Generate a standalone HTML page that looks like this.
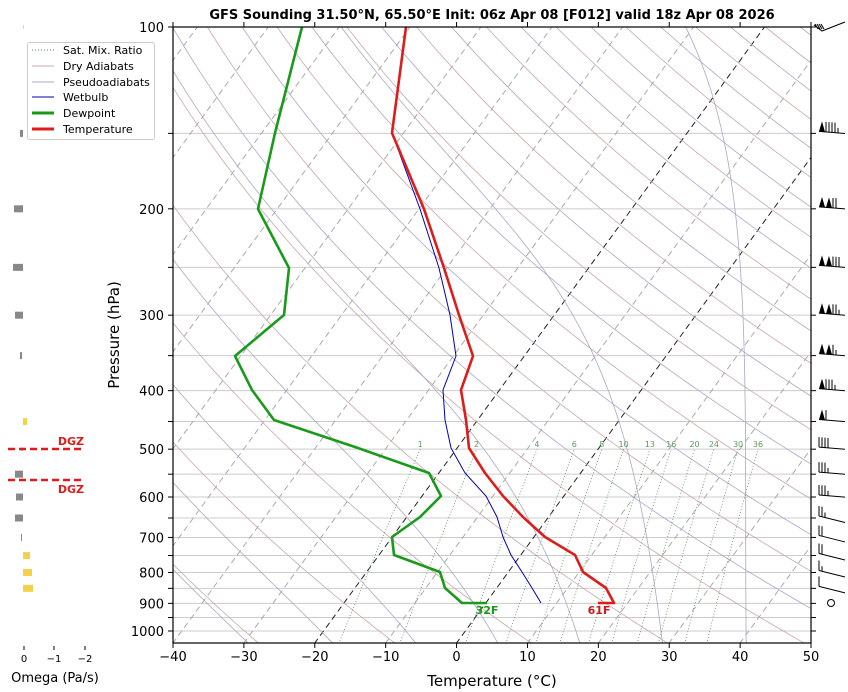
<!DOCTYPE html>
<html><head><meta charset="utf-8">
<style>
html,body{margin:0;padding:0;background:#fff;width:848px;height:692px;overflow:hidden}
svg{display:block;font-family:"DejaVu Sans","Liberation Sans",sans-serif}
</style></head>
<body>
<svg id="s" width="848" height="692" viewBox="0 0 848 692" xmlns="http://www.w3.org/2000/svg">
<defs><clipPath id="c"><rect x="173" y="27" width="638" height="616"/></clipPath></defs>
<g id="bg" clip-path="url(#c)"></g>
<g id="fg"></g>
<text x="492" y="19" text-anchor="middle" font-size="13" font-weight="bold">GFS Sounding 31.50°N, 65.50°E Init: 06z Apr 08 [F012] valid 18z Apr 08 2026</text>
<text x="492" y="686" text-anchor="middle" font-size="15">Temperature (°C)</text>
<text transform="translate(119,335) rotate(-90)" text-anchor="middle" font-size="15">Pressure (hPa)</text>
<text x="55" y="682" text-anchor="middle" font-size="13">Omega (Pa/s)</text>
<rect x="27.5" y="42.5" width="127" height="97" rx="2" fill="#fff" stroke="#ccc"/>
<g font-size="11">
<line x1="32" y1="50" x2="54" y2="50" stroke="#5a8a5a" stroke-dasharray="1,2"/><text x="63" y="54">Sat. Mix. Ratio</text>
<line x1="32" y1="66" x2="54" y2="66" stroke="#c9a8a8"/><text x="63" y="70">Dry Adiabats</text>
<line x1="32" y1="82" x2="54" y2="82" stroke="#a8a8c8"/><text x="63" y="86">Pseudoadiabats</text>
<line x1="32" y1="97" x2="54" y2="97" stroke="#0000aa"/><text x="63" y="101">Wetbulb</text>
<line x1="32" y1="113" x2="54" y2="113" stroke="#1a9a1a" stroke-width="3"/><text x="63" y="117">Dewpoint</text>
<line x1="32" y1="129" x2="54" y2="129" stroke="#dd1c1c" stroke-width="3"/><text x="63" y="133">Temperature</text>
</g>
</svg>
<script>
var NS="http://www.w3.org/2000/svg";
function el(par,t,a,txt){var e=document.createElementNS(NS,t);for(var k in a)e.setAttribute(k,a[k]);if(txt!==undefined)e.textContent=txt;document.getElementById(par).appendChild(e);return e;}
var SK=0.73,PX=7.089;
function Y(p){return 27+604*Math.log10(p/100);}
function X(T,p){return 173+(T+40)*PX+SK*(643-Y(p));}
function poly(par,pts,a){a.points=pts.map(function(q){return q[0].toFixed(1)+","+q[1].toFixed(1)}).join(" ");a.fill="none";el(par,"polyline",a);}
var levs=[100,150,200,250,300,350,400,450,500,550,600,650,700,750,800,850,900,950,1000];
levs.forEach(function(p){el("bg","line",{x1:173,x2:811,y1:Y(p),y2:Y(p),stroke:"#ccc","stroke-width":1});});
for(var T=-120;T<=50;T+=10){var pts=[[X(T,1050),Y(1050)],[X(T,100),Y(100)]];
 poly("bg",pts,{stroke:(T==0||T==-20)?"#222":"#aaa","stroke-dasharray":"6,4","stroke-width":1});}
for(var k=-12;k<=6;k++){var th=394+19*k,pts=[];for(var p=1050;p>=100;p-=10){pts.push([X(th*Math.pow(p/1000,0.2857)-273.15,p),Y(p)]);}
 poly("bg",pts,{stroke:"#c9a8a8","stroke-width":0.8});}
for(var k=-4;k<=6;k++){var th=394+19*k+9.5,pts=[];for(var p=1050;p>=100;p-=10){pts.push([X(th*Math.pow(p/1000,0.2857)-273.15,p),Y(p)]);}
 poly("bg",pts,{stroke:"#a8a8c8","stroke-width":0.8});}
function es(T){return 6.112*Math.exp(17.67*T/(T+243.5));}
function dTdp(Tk,p){var e=Math.min(es(Tk-273.15),0.8*p),rs=0.622*e/(p-e),Rd=287,Lv=2.5e6,cp=1005;return (Rd*Tk+Lv*rs)/(p*(cp+Lv*Lv*rs*0.622/(Rd*Tk*Tk)));}
for(var k=0;k<=6;k++){var T0=-32.4+12*k,Tk=T0+273.15,pts=[];
 for(var q=1000;q<1050;q+=2){Tk+=dTdp(Tk,q)*2;}
 for(var p=1050;p>=100;p-=2){pts.push([X(Tk-273.15,p),Y(p)]);Tk-=dTdp(Tk,p)*2;}
 poly("bg",pts,{stroke:"#a8a8c8","stroke-width":0.8});}
[1,2,4,6,8,10,13,16,20,24,30,36].forEach(function(w){var pts=[];for(var p=1050;p>=500;p-=10){var e=w*p/(622+w),l=Math.log(e/6.112),Td=243.5*l/(17.67-l);pts.push([X(Td,p),Y(p)]);}
 poly("bg",pts,{stroke:"#5a8a5a","stroke-dasharray":"1,2","stroke-width":0.8});
 var e=w*500/(622+w),l=Math.log(e/6.112),Td=243.5*l/(17.67-l);
 el("bg","text",{x:X(Td,500),y:447,"text-anchor":"middle","font-size":8,fill:"#5a9a5a"},String(w));});
poly("fg",[[392,133],[420,209],[439,268],[450,315],[456,356],[443,390],[445,420],[451,448],[465,473],[486,496],[497,517],[503,537],[511,555],[522,572],[532,588],[541,603]],{stroke:"#0000bb","stroke-width":1});
poly("fg",[[302,27],[275,133],[258,209],[289,268],[284,315],[235,356],[252,390],[274,420],[358,448],[429,473],[441,496],[420,517],[392,537],[394,555],[440,572],[445,588],[462,603],[487,603]],{stroke:"#1a9a1a","stroke-width":2.6,"stroke-linejoin":"round"});
poly("fg",[[406,27],[392,133],[424,209],[444,268],[459,315],[473,356],[461,390],[466,420],[469,448],[485,473],[503,496],[523,517],[545,537],[575,555],[583,572],[606,588],[614,603],[598,603]],{stroke:"#dd1c1c","stroke-width":2.6,"stroke-linejoin":"round"});
el("fg","text",{x:487,y:614,"text-anchor":"middle","font-size":11,"font-weight":"bold",fill:"#1a9a1a"},"32F");
el("fg","text",{x:599,y:614,"text-anchor":"middle","font-size":11,"font-weight":"bold",fill:"#cc1c1c"},"61F");
el("fg","rect",{x:173,y:27,width:638,height:616,fill:"none",stroke:"#000","stroke-width":1.2});
for(var T=-40;T<=50;T+=10){var x=173+(T+40)*PX;el("fg","line",{x1:x,x2:x,y1:643,y2:648,stroke:"#000"});el("fg","line",{x1:x,x2:x,y1:27,y2:22,stroke:"#000"});
 el("fg","text",{x:x,y:661,"text-anchor":"middle","font-size":13},String(T).replace("-","−"));}
levs.forEach(function(p){var y=Y(p);el("fg","line",{x1:168,x2:173,y1:y,y2:y,stroke:"#000"});el("fg","line",{x1:811,x2:816,y1:y,y2:y,stroke:"#000"});
 if(p%100==0)el("fg","text",{x:164,y:y+5,"text-anchor":"end","font-size":13},String(p));});
[[100,23,24,"#f3d24a",3],[150,20,23,"#888",7],[200,14,23,"#888",7],[250,13,23,"#888",7],[300,15,23,"#888",7],[350,20,22,"#888",7],[450,23,27,"#f3d24a",7],[500,21,23,"#888",3],[550,15,23,"#888",7],[600,16,23,"#888",7],[650,15,23,"#888",7],[700,21,22,"#888",7],[750,23,30,"#f3d24a",7],[800,23,32,"#f3d24a",7],[850,23,33,"#f3d24a",7]].forEach(function(b){var y=Y(b[0]);el("fg","rect",{x:b[1],y:y-b[4]/2,width:b[2]-b[1],height:b[4],fill:b[3]});});
el("fg","line",{x1:8,x2:84,y1:449,y2:449,stroke:"#dd1c1c","stroke-width":2.5,"stroke-dasharray":"7,4"});
el("fg","line",{x1:8,x2:84,y1:480,y2:480,stroke:"#dd1c1c","stroke-width":2.5,"stroke-dasharray":"7,4"});
el("fg","text",{x:84,y:445,"text-anchor":"end","font-size":11,"font-weight":"bold",fill:"#dd1c1c"},"DGZ");
el("fg","text",{x:84,y:493,"text-anchor":"end","font-size":11,"font-weight":"bold",fill:"#dd1c1c"},"DGZ");
[[24,"0"],[54,"−1"],[85,"−2"]].forEach(function(t){el("fg","line",{x1:t[0],x2:t[0],y1:646,y2:650,stroke:"#000"});el("fg","text",{x:t[0],y:662,"text-anchor":"middle","font-size":10},t[1]);});
var B={150:[1,4,1],200:[2,2,0],250:[2,3,0],300:[2,2,1],350:[2,1,1],400:[1,3,1],450:[1,1,0],500:[0,4,0],550:[0,3,1],600:[0,3,1],650:[0,2,1],700:[0,2,0],750:[0,2,0],800:[0,1,1],850:[0,1,0]};
for(var k in B){var p=+k,y=Y(p),b=B[k],x=819,slope=p>=650?0.25:0.08;
 var yy=function(xx){return y-2+(xx-819)*slope;};
 el("fg","line",{x1:819,y1:yy(819),x2:845,y2:yy(845),stroke:"#000","stroke-width":1});
 for(var i=0;i<b[0];i++){el("fg","polygon",{points:x+","+yy(x)+" "+(x+3)+","+(yy(x)-10)+" "+(x+6)+","+yy(x+6),fill:"#000"});x+=7;}
 for(var i=0;i<b[1];i++){el("fg","line",{x1:x,y1:yy(x),x2:x,y2:yy(x)-10,stroke:"#000"});x+=3;}
 for(var i=0;i<b[2];i++){el("fg","line",{x1:x,y1:yy(x),x2:x,y2:yy(x)-5,stroke:"#000"});x+=3;}}
el("fg","polyline",{points:"814,25 822,31 845,22",fill:"none",stroke:"#000"});
for(var i=0;i<4;i++)el("fg","line",{x1:815+i*2,y1:24,x2:818+i*2,y2:29,stroke:"#000"});
el("fg","circle",{cx:831,cy:603,r:3.5,fill:"none",stroke:"#000"});
</script>
</body></html>
